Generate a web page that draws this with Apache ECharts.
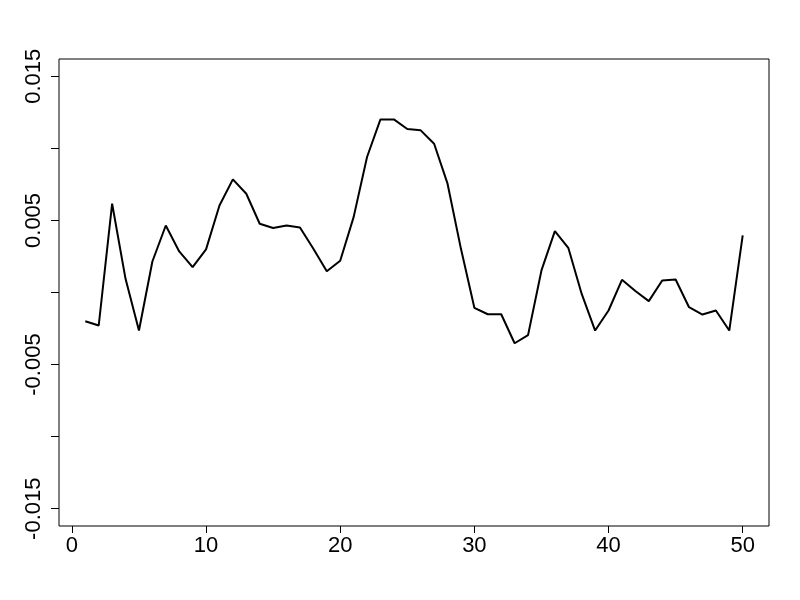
<!DOCTYPE html>
<html>
<head>
<meta charset="utf-8">
<script src="https://cdn.jsdelivr.net/npm/echarts@6/dist/echarts.min.js"></script>
<style>
html, body { margin: 0; padding: 0; background: #fff; }
#main { width: 800px; height: 600px; }
</style>
</head>
<body>
<div id="main"></div>
<script>
// 数据
var xIndex = [];
for (var i = 1; i <= 50; i++) xIndex.push(i);
var yValues = [
	-0.00199, -0.00229, 0.00616, 0.00095, -0.00264, 0.00215, 0.00465, 0.00285, 0.00176, 0.00299,
	0.00604, 0.00785, 0.00685, 0.00477, 0.00447, 0.00465, 0.00451, 0.00303, 0.00148, 0.00220,
	0.00523, 0.00940, 0.01201, 0.01201, 0.01134, 0.01125, 0.01032, 0.00755, 0.00303, -0.00106,
	-0.00151, -0.00151, -0.00352, -0.00296, 0.00153, 0.00426, 0.00310, -0.00010, -0.00264, -0.00125,
	0.00088, 0.00010, -0.00060, 0.00083, 0.00090, -0.00102, -0.00153, -0.00125, -0.00264, 0.00396
];
var xTicks = [0, 10, 20, 30, 40, 50];
var yTicks = [-0.015, -0.01, -0.005, 0, 0.005, 0.01, 0.015];
var yLabels = [-0.015, -0.005, 0.005, 0.015];

var chart = echarts.init(document.getElementById('main'));
var font = '"Liberation Sans", Arial, sans-serif';

chart.setOption({
	animation: false,
	backgroundColor: '#fff',
	grid: {
		left: 59,
		right: 31,
		top: 59,
		bottom: 74,
		show: true,
		borderColor: '#000',
		borderWidth: 1
	},
	xAxis: {
		type: 'value',
		min: -0.96,
		max: 51.96,
		splitLine: { show: false },
		axisLine: { show: false, onZero: false },
		axisTick: {
			show: true,
			length: 7,
			customValues: xTicks,
			lineStyle: { color: '#000', width: 1 }
		},
		axisLabel: {
			customValues: xTicks,
			margin: 9,
			color: '#000',
			fontSize: 22,
			fontFamily: font
		}
	},
	yAxis: {
		type: 'value',
		min: -0.0162,
		max: 0.0162,
		splitLine: { show: false },
		axisLine: { show: false, onZero: false },
		axisTick: {
			show: true,
			length: 8,
			customValues: yTicks,
			lineStyle: { color: '#000', width: 1 }
		},
		axisLabel: {
			customValues: yLabels,
			rotate: 90,
			margin: 14,
			color: '#000',
			fontSize: 22,
			fontFamily: font,
			formatter: function (v) {
				return v.toFixed(3);
			}
		}
	},
	series: [{
		type: 'line',
		data: xIndex.map(function (x, k) { return [x, yValues[k]]; }),
		symbol: 'none',
		lineStyle: { color: '#000', width: 2 }
	}]
});
</script>
</body>
</html>
